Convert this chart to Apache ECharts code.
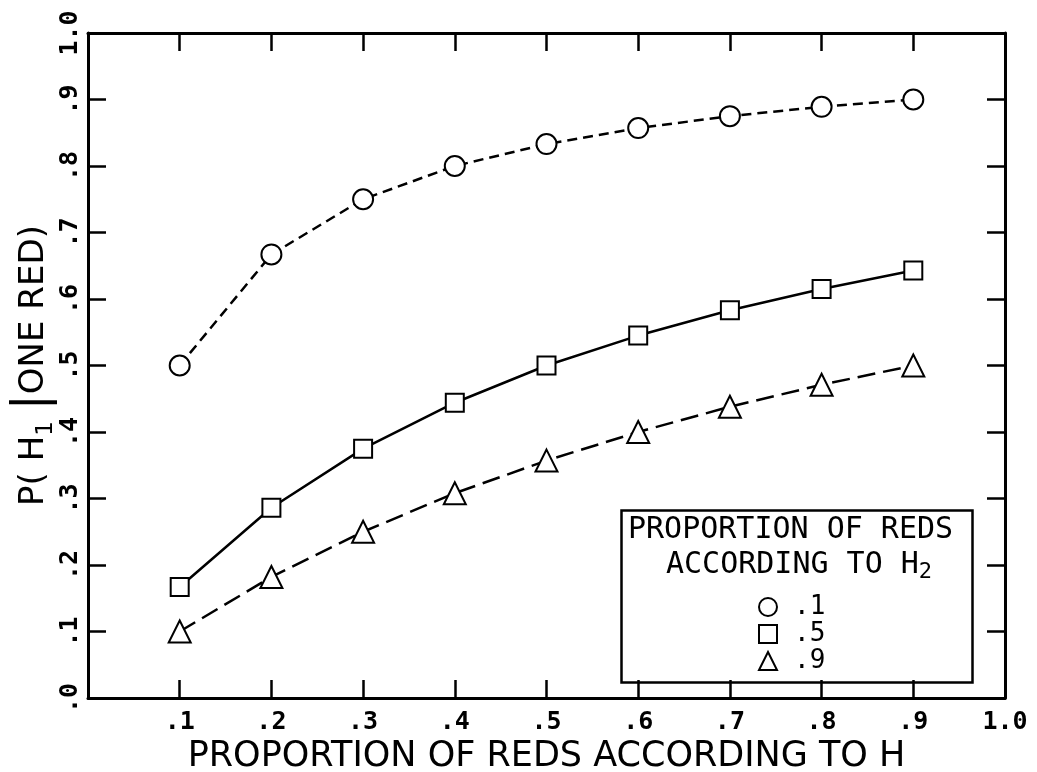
<!DOCTYPE html>
<html>
<head>
<meta charset="utf-8">
<script src="https://cdn.jsdelivr.net/npm/echarts@6/dist/echarts.min.js"></script>
<style>
  html, body { margin: 0; padding: 0; background: #fff; }
  #chart { width: 1037px; height: 772px; }
</style>
</head>
<body>
<div id="chart"></div>
<script>
// ---- data ----
const xValues = [0.1, 0.2, 0.3, 0.4, 0.5, 0.6, 0.7, 0.8, 0.9];
const seriesH2_01 = [0.50, 0.667, 0.75, 0.80, 0.833, 0.857, 0.875, 0.889, 0.90];
const seriesH2_05 = [0.167, 0.286, 0.375, 0.444, 0.50, 0.545, 0.583, 0.615, 0.643];
const seriesH2_09 = [0.10, 0.182, 0.25, 0.308, 0.357, 0.40, 0.438, 0.471, 0.50];
const legendNames = ['.1', '.5', '.9'];
const xTitle = 'PROPORTION OF REDS ACCORDING TO H';
const legendTitle1 = 'PROPORTION OF REDS';
const legendTitle2 = 'ACCORDING TO H';

const MONO = '"DejaVu Sans Mono", "Liberation Mono", monospace';
const SANS = '"DejaVu Sans", "Liberation Sans", sans-serif';

function tickText(v) {
  const r = Math.round(v * 10);
  if (r === 0) return '.0';
  if (r === 10) return '1.0';
  return '.' + r;
}

const chart = echarts.init(document.getElementById('chart'), null, { renderer: 'canvas' });

const frameLine = { show: true, onZero: false, lineStyle: { color: '#000', width: 3 } };
const frameTick = { show: true, inside: true, length: 18, lineStyle: { color: '#000', width: 2.5 } };

function pairs(arr) { return xValues.map((x, i) => [x, arr[i]]); }

const baseSeries = {
  type: 'line',
  xAxisIndex: 0,
  yAxisIndex: 0,
  z: 3,
  animation: false,
  showAllSymbol: true,
  itemStyle: { color: '#000', borderColor: '#000', borderWidth: 2.5 },
};

chart.setOption({
  backgroundColor: '#fff',
  animation: false,
  grid: { left: 88, right: 32, top: 33, bottom: 74, containLabel: false, outerBoundsMode: 'none' },
  xAxis: [
    {
      type: 'value', min: 0, max: 1, interval: 0.1, position: 'bottom',
      axisLine: frameLine, axisTick: frameTick, splitLine: { show: false },
      axisLabel: {
        show: true, formatter: v => (Math.round(v * 10) === 0 ? '' : tickText(v)),
        color: '#000', fontFamily: MONO, fontSize: 25, fontWeight: 'bold', margin: 12
      },
      name: xTitle, nameLocation: 'middle', nameGap: 37,
      nameTextStyle: { color: '#000', fontFamily: SANS, fontSize: 35 }
    },
    {
      type: 'value', min: 0, max: 1, interval: 0.1, position: 'top',
      axisLine: frameLine, axisTick: frameTick, splitLine: { show: false },
      axisLabel: { show: false }
    }
  ],
  yAxis: [
    {
      type: 'value', min: 0, max: 1, interval: 0.1, position: 'left',
      axisLine: frameLine, axisTick: frameTick, splitLine: { show: false },
      axisLabel: {
        show: true, rotate: 90, formatter: tickText,
        color: '#000', fontFamily: MONO, fontSize: 25, fontWeight: 'bold', margin: 5
      },
      name: 'P( H{sub|1} {bar||}ONE RED)', nameLocation: 'middle', nameGap: 30, nameRotate: 90,
      nameMoveOverlap: false,
      nameTextStyle: {
        color: '#000', fontFamily: SANS, fontSize: 34,
        rich: {
          sub: { fontFamily: SANS, fontSize: 23, verticalAlign: 'bottom', padding: [16, 0, 0, 0], color: '#000' },
          bar: { fontFamily: SANS, fontSize: 48, color: '#000' }
        }
      }
    },
    {
      type: 'value', min: 0, max: 1, interval: 0.1, position: 'right',
      axisLine: frameLine, axisTick: frameTick, splitLine: { show: false },
      axisLabel: { show: false }
    }
  ],
  legend: {
    orient: 'vertical', left: 758, top: 594, itemGap: 1, z: 20,
    itemWidth: 18, itemHeight: 18, selectedMode: false,
    padding: 0,
    textStyle: { color: '#000', fontFamily: MONO, fontSize: 26, padding: [0, 0, 0, 12] },
    data: [
      { name: legendNames[0], icon: 'emptyCircle' },
      { name: legendNames[1], icon: 'emptyRect' },
      { name: legendNames[2], icon: 'emptyTriangle' }
    ]
  },
  graphic: [
    {
      type: 'rect', left: 619, top: 508, z: 10,
      shape: { width: 351, height: 172 },
      style: { fill: 'none', stroke: '#000', lineWidth: 2.5 }
    },
    {
      type: 'text', left: 628, top: 515, z: 11,
      style: { text: legendTitle1, font: '30px ' + MONO, fill: '#000' }
    },
    {
      type: 'text', left: 666, top: 550, z: 11,
      style: {
        text: legendTitle2 + '{s|2}', font: '30px ' + MONO, fill: '#000',
        rich: { s: { font: '22px ' + MONO, fill: '#000', padding: [14, 0, 0, 0] } }
      }
    }
  ],
  series: [
    Object.assign({}, baseSeries, {
      name: legendNames[0], data: pairs(seriesH2_01),
      symbol: 'emptyCircle', symbolSize: 20,
      lineStyle: { color: '#000', width: 2.5, type: [10, 6] }
    }),
    Object.assign({}, baseSeries, {
      name: legendNames[1], data: pairs(seriesH2_05),
      symbol: 'emptyRect', symbolSize: 18,
      lineStyle: { color: '#000', width: 2.5, type: 'solid' }
    }),
    Object.assign({}, baseSeries, {
      name: legendNames[2], data: pairs(seriesH2_09),
      symbol: 'emptyTriangle', symbolSize: 22,
      lineStyle: { color: '#000', width: 2.5, type: [18, 8] }
    })
  ]
});
</script>
</body>
</html>
